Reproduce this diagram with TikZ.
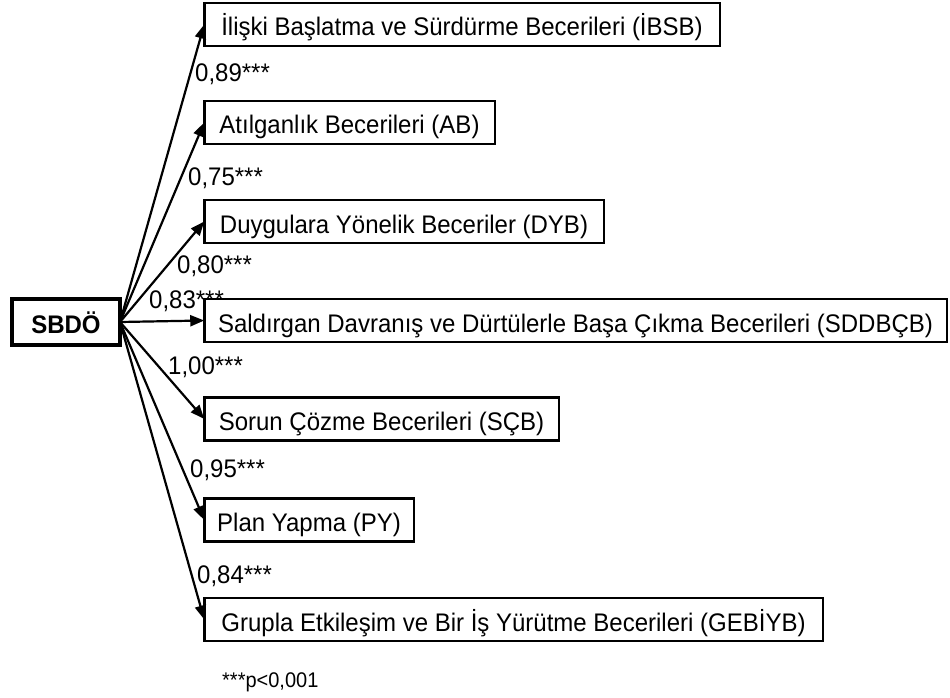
\documentclass[tikz,border=0pt]{standalone}
\usepackage{fontspec}
\setmainfont{Liberation Sans}
\usetikzlibrary{arrows.meta}
\newcommand\vtext[1]{\scalebox{1}[1.06]{#1}}
\begin{document}
\begin{tikzpicture}[x=1pt,y=-1pt,
  box/.style={draw, line width=2.5pt, minimum height=43pt, inner xsep=4pt, inner ysep=0pt, text height=23pt, text depth=0pt, anchor=west, font=\fontsize{24}{28}\selectfont, outer sep=0pt},
  src/.style={draw, line width=4pt, minimum width=108pt, minimum height=46pt, inner sep=0pt, text height=22pt, text depth=0pt, font=\bfseries\fontsize{24}{28}\selectfont, outer sep=0pt},
  arr/.style={line width=2.2pt, -{Triangle[length=14pt,width=11pt]}},
  coef/.style={anchor=base west, inner sep=0pt, font=\fontsize{24}{28}\selectfont}]
\useasboundingbox (0,0) rectangle (950,698);
\node[src] (s) at (66,322) {\vtext{SBDÖ}};
\node[box, minimum width=515.5pt] (b1) at (204.25,24.5) {\vtext{İlişki Başlatma ve Sürdürme Becerileri (İBSB)}};
\node[box, minimum width=290.5pt] (b2) at (204.25,122.5) {\vtext{Atılganlık Becerileri (AB)}};
\node[box, minimum width=399.5pt] (b3) at (204.25,221.5) {\vtext{Duygulara Yönelik Beceriler (DYB)}};
\node[box, minimum width=742.5pt] (b4) at (204.25,320.5) {\vtext{Saldırgan Davranış ve Dürtülerle Başa Çıkma Becerileri (SDDBÇB)}};
\node[box, minimum width=354.5pt] (b5) at (204.25,419) {\vtext{Sorun Çözme Becerileri (SÇB)}};
\node[box, minimum width=209.5pt] (b6) at (204.25,520) {\vtext{Plan Yapma (PY)}};
\node[box, minimum width=618.5pt] (b7) at (204.25,619.5) {\vtext{Grupla Etkileşim ve Bir İş Yürütme Becerileri (GEBİYB)}};
\foreach \b in {b1,b2,b3,b4,b5,b6,b7} \draw[arr] (s.east) -- (\b.west);
\node[coef] (c1) at (195,82) {\vtext{0,89***}};
\node[coef] (c2) at (188,185) {\vtext{0,75***}};
\node[coef] (c3) at (177,273) {\vtext{0,80***}};
\node[coef] (c4) at (149,308) {\vtext{0,83***}};
\node[coef] (c5) at (168,374) {\vtext{1,00***}};
\node[coef] (c6) at (190,477) {\vtext{0,95***}};
\node[coef] (c7) at (197,583) {\vtext{0,84***}};
\node[anchor=base west, inner sep=0pt, font=\fontsize{20}{24}\selectfont] (fn) at (222,687) {\vtext{***p<0,001}};
\end{tikzpicture}
\end{document}
